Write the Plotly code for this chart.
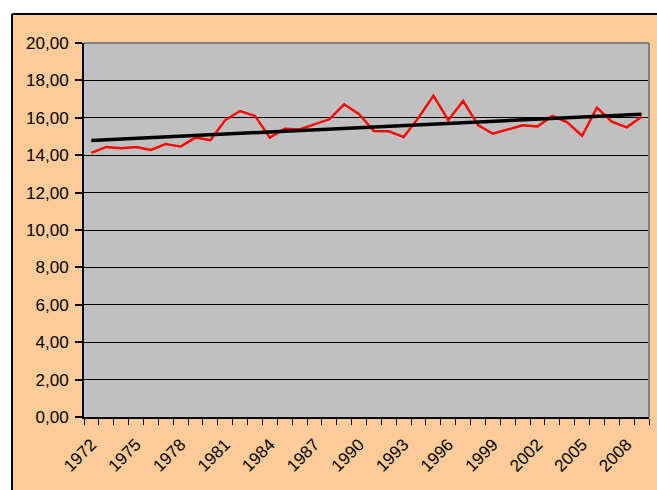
import numpy as np
import plotly.graph_objects as go

years = list(range(1972, 2010))
values = [14.13, 14.44, 14.37, 14.44, 14.28, 14.60, 14.46, 14.94, 14.80, 15.88,
          16.36, 16.10, 14.94, 15.42, 15.38, 15.67, 15.92, 16.72, 16.19, 15.29,
          15.28, 14.97, 16.01, 17.18, 15.87, 16.90, 15.61, 15.15, 15.38, 15.60,
          15.54, 16.10, 15.76, 15.04, 16.54, 15.79, 15.49, 16.06]
label_years = list(range(1972, 2010, 3))
y_ticks = [0, 2, 4, 6, 8, 10, 12, 14, 16, 18, 20]

coef = np.polyfit(years, values, 1)
trend = [coef[0] * y + coef[1] for y in years]

font = dict(family="Liberation Sans, Arial, sans-serif", size=17, color="black")

fig = go.Figure()
fig.add_trace(go.Scatter(x=years, y=values, mode="lines",
                         line=dict(color="#FF0000", width=2.4), hoverinfo="x+y"))
fig.add_trace(go.Scatter(x=years, y=trend, mode="lines",
                         line=dict(color="black", width=3.5), hoverinfo="skip"))

L, R, T, B = 84, 8, 43, 73
W, H = 657, 490
pw, ph = W - L - R, H - T - B
px = lambda v: (v - L) / pw
py = lambda v: (H - B - v) / ph

shapes = [
    dict(type="rect", xref="paper", yref="paper", x0=-0.3, x1=px(12), y0=-0.4, y1=1.3,
         fillcolor="white", line=dict(width=0), layer="below"),
    dict(type="rect", xref="paper", yref="paper", x0=-0.3, x1=1.2, y0=py(14), y1=1.3,
         fillcolor="white", line=dict(width=0), layer="below"),
    dict(type="line", xref="paper", yref="paper", x0=px(12), x1=px(12), y0=-0.4, y1=py(14),
         line=dict(color="black", width=2)),
    dict(type="line", xref="paper", yref="paper", x0=px(12), x1=1.2, y0=py(14), y1=py(14),
         line=dict(color="black", width=2)),
    dict(type="line", xref="paper", yref="paper", x0=0, x1=1, y0=1, y1=1,
         line=dict(color="#808080", width=2)),
    dict(type="line", xref="paper", yref="paper", x0=1, x1=1, y0=0, y1=1,
         line=dict(color="#808080", width=2)),
]

fig.update_layout(
    width=W, height=H,
    margin=dict(l=L, r=R, t=T, b=B, pad=0, autoexpand=False),
    paper_bgcolor="#FFCC99",
    plot_bgcolor="#C0C0C0",
    showlegend=False,
    font=font,
    shapes=shapes,
    xaxis=dict(
        range=[1971.5, 2009.5],
        tickvals=label_years,
        ticktext=[str(y) for y in label_years],
        tickangle=-45,
        ticks="",
        showgrid=False,
        zeroline=False,
        automargin=False,
        showline=True, linecolor="black", linewidth=2,
        tickfont=font,
        ticklabelstandoff=9,
        minor=dict(tickvals=[y - 0.5 for y in years] + [2009.5], ticks="outside",
                   ticklen=6, tickcolor="black", tickwidth=1, showgrid=False),
    ),
    yaxis=dict(
        range=[0, 20],
        tickvals=y_ticks,
        ticktext=[f"{v:.2f}".replace(".", ",") for v in y_ticks],
        ticks="outside", ticklen=7, tickcolor="black", tickwidth=2,
        showgrid=True, gridcolor="black", gridwidth=1,
        zeroline=False,
        automargin=False,
        showline=True, linecolor="black", linewidth=2,
        tickfont=font,
        ticklabelstandoff=3,
    ),
)

fig.write_html("out.html",
               config={"displayModeBar": False},
               post_script="document.body.style.margin='0';document.body.style.padding='0';")
